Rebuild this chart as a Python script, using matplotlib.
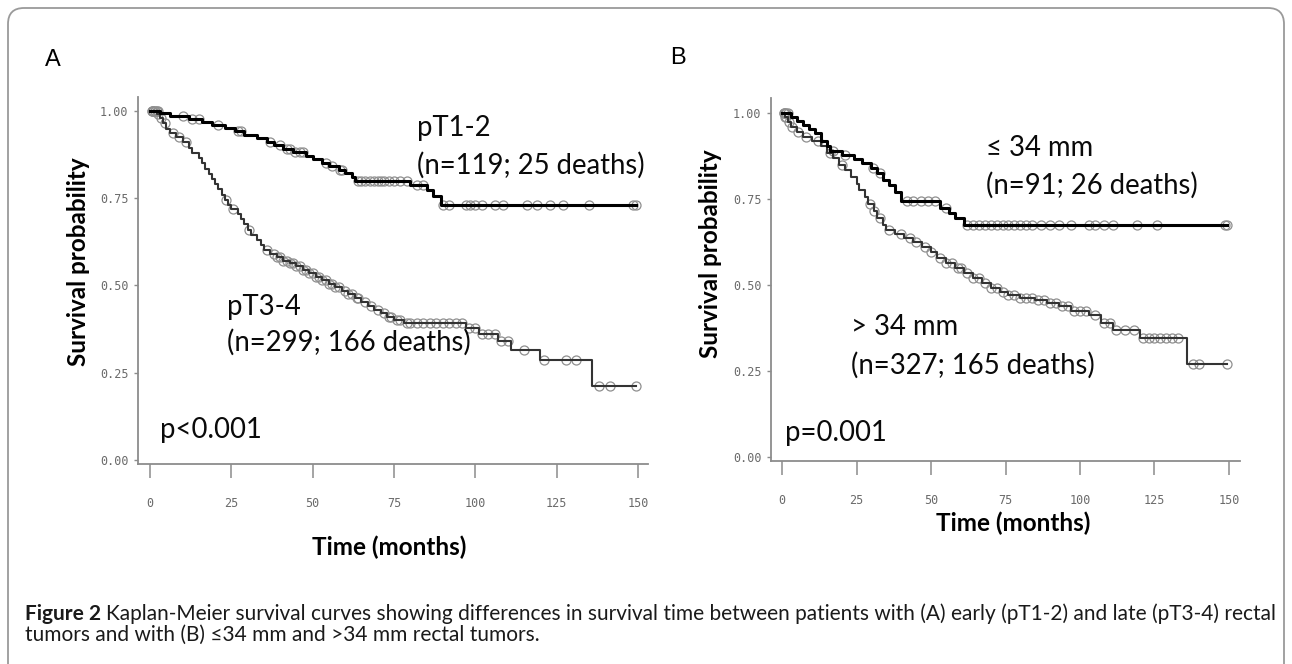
import numpy as np
import matplotlib
matplotlib.use('Agg')
import matplotlib.pyplot as plt
from matplotlib.patches import FancyBboxPatch
from matplotlib.transforms import IdentityTransform

W, H = 1292, 664

# --- panel A: pT1-2 (step times, survival after step, censored times)
a1_t = [3, 6, 12, 16, 19, 23, 26, 29, 33, 36, 38, 41, 44, 48, 50, 53, 55, 58, 60, 62, 63, 80, 85, 87, 89.5]
a1_s = [0.993, 0.986, 0.978, 0.969, 0.960, 0.951, 0.942, 0.932, 0.922, 0.912, 0.902, 0.892, 0.882, 0.872,
        0.862, 0.852, 0.842, 0.832, 0.822, 0.811, 0.800, 0.787, 0.772, 0.757, 0.730]
a1_c = [0.5, 1, 1.5, 2, 2.5, 10, 13, 15, 21, 27, 28, 37, 40, 42, 43, 44.5, 46, 47, 54, 56, 58.5, 59,
        64, 65, 66, 67.5, 69, 70, 71, 72, 73.5, 75, 77, 79, 82, 84, 90, 92, 97, 98.5, 100, 102, 106,
        108.5, 116, 119, 123, 127, 135, 148.5, 149.5]

# --- panel A: pT3-4
a2_t = [2, 3, 4, 5, 6, 8, 10, 12, 13, 15, 16, 17, 18, 19, 20, 21, 22, 23, 24, 25, 27, 28, 29, 30, 31,
        33, 34, 35, 37, 39, 41, 43, 45, 47, 49, 51, 53, 55, 57, 59, 61, 63, 65, 67, 69, 71, 73, 75,
        78, 97, 101, 107, 111, 120, 136]
a2_s = [0.990, 0.980, 0.965, 0.948, 0.936, 0.925, 0.910, 0.895, 0.880, 0.865, 0.850, 0.835, 0.820,
        0.805, 0.790, 0.775, 0.760, 0.745, 0.730, 0.718, 0.704, 0.690, 0.675, 0.660, 0.645, 0.630,
        0.615, 0.600, 0.590, 0.580, 0.571, 0.563, 0.555, 0.545, 0.535, 0.525, 0.515, 0.505, 0.495,
        0.485, 0.475, 0.463, 0.452, 0.441, 0.430, 0.420, 0.410, 0.401, 0.392, 0.377, 0.362, 0.340,
        0.315, 0.285, 0.212]
a2_c = [0.5, 1, 1.5, 2.5, 3.5, 4.5, 7, 9, 11, 23.5, 25.5, 30.5, 36, 38, 39, 40, 41, 42, 43, 44, 45,
        46, 47, 48, 49, 50, 51, 52, 53, 54, 55, 56, 57, 58, 60, 61, 62, 63.5, 64, 66, 68, 70, 72,
        73.5, 74, 76, 77, 79, 80, 82, 84, 86, 88, 90, 92, 94, 96, 98, 100, 102, 104, 106, 108, 110,
        115, 121, 128, 131, 138, 141.5, 149.5]

# --- panel B: <=34 mm
b1_t = [3, 5, 7, 9, 11, 13, 15, 16, 20, 24, 27, 30, 32, 34, 36, 38, 40, 53, 56, 58, 61]
b1_s = [0.990, 0.978, 0.966, 0.955, 0.943, 0.920, 0.905, 0.890, 0.878, 0.866, 0.855, 0.840, 0.825,
        0.805, 0.790, 0.770, 0.745, 0.725, 0.710, 0.695, 0.675]
b1_c = [0.5, 1, 1.5, 2, 17, 21, 30.5, 33, 42, 44, 46.5, 49, 51.5, 55, 62, 64, 66, 68, 70, 72, 74,
        76, 78, 80, 82, 84, 87, 90, 93, 97, 103, 105, 108, 111, 119, 126, 148.5, 149.5]

# --- panel B: >34 mm
b2_t = [1, 2, 3, 5, 7, 10, 13, 15, 17, 19, 21, 23, 25, 26, 28, 29, 31, 32, 34, 35, 38, 41, 44, 47,
        50, 52, 55, 58, 61, 64, 67, 70, 73, 76, 80, 85, 89, 93, 97, 103, 107, 111, 120, 136]
b2_s = [0.990, 0.975, 0.960, 0.945, 0.930, 0.920, 0.905, 0.885, 0.870, 0.850, 0.835, 0.815, 0.795,
        0.775, 0.755, 0.735, 0.715, 0.695, 0.675, 0.660, 0.648, 0.636, 0.624, 0.610, 0.595, 0.580,
        0.565, 0.550, 0.535, 0.520, 0.505, 0.490, 0.480, 0.470, 0.462, 0.455, 0.447, 0.440, 0.425,
        0.413, 0.390, 0.370, 0.345, 0.270]
b2_c = [0.5, 1, 1.5, 2.5, 3.5, 5.5, 8, 12, 16, 20, 29.5, 31, 33, 36, 40, 43, 45, 48, 50, 53, 55, 57,
        59, 60, 62, 64, 66, 68, 70, 72, 74, 76, 78, 80, 82, 84, 86, 88, 90, 92, 94, 96, 98, 100, 102,
        105, 108, 110, 112, 115, 118, 121, 123, 125, 127, 129, 131, 133, 138, 140, 149.5]

x_ticks = [0, 25, 50, 75, 100, 125, 150]
y_ticks = [0.0, 0.25, 0.5, 0.75, 1.0]
y_tick_labels = ['0.00', '0.25', '0.50', '0.75', '1.00']

plt.rcParams['font.family'] = ['Lato', 'DejaVu Sans']

GRAY = '#8c8c8c'


def fx(x):
    return x / W


def fy(y):
    return 1 - y / H


def surv_at(t, s, times):
    idx = np.searchsorted(t, times, side='right')
    return np.concatenate([[1.0], s])[idx]


def draw_curve(ax, t, s, cens, color, lw):
    t = np.array(t, dtype=float)
    s = np.array(s, dtype=float)
    c = np.array(cens, dtype=float)
    t_end = max(c.max(), t.max())
    x = np.concatenate([[0], t, [t_end]])
    y = np.concatenate([[1.0], s, [s[-1]]])
    ax.plot(x, y, drawstyle='steps-post', color=color, lw=lw, zorder=3)
    ax.plot(c, surv_at(t, s, c), 'o', ms=6.5, mfc='none', mec='#8f8f8f', mew=0.9, zorder=2)


def setup_axes(ax, xlim, ylim):
    ax.set_xlim(*xlim)
    ax.set_ylim(*ylim)
    for sp in ['top', 'right']:
        ax.spines[sp].set_visible(False)
    for sp in ['left', 'bottom']:
        ax.spines[sp].set_color(GRAY)
        ax.spines[sp].set_linewidth(1.3)
    ax.set_xticks(x_ticks)
    ax.set_xticklabels([str(v) for v in x_ticks], family='DejaVu Sans Mono')
    ax.set_yticks(y_ticks)
    ax.set_yticklabels(y_tick_labels, family='DejaVu Sans Mono')
    ax.tick_params(axis='x', direction='out', length=10, width=1.1, color=GRAY, pad=14,
                   labelsize=8.5, labelcolor='#6a6a6a')
    ax.tick_params(axis='y', direction='out', length=3, width=1.0, color=GRAY, pad=4,
                   labelsize=8.5, labelcolor='#6a6a6a')
    ax.set_facecolor('none')


fig = plt.figure(figsize=(W / 100, H / 100), dpi=100)

# rounded frame around the figure
frame = FancyBboxPatch((8, -40), W - 16, H - 8 + 40, boxstyle='round,pad=0,rounding_size=16',
                       fill=False, ec='#9a9a9a', lw=1.3, transform=IdentityTransform())
fig.add_artist(frame)

axA = fig.add_axes([fx(138), fy(464), fx(648) - fx(138), fy(97) - fy(464)])
setup_axes(axA, (-3.7, 153.1), (-0.012, 1.04))
draw_curve(axA, a2_t, a2_s, a2_c, '#333333', 1.5)
draw_curve(axA, a1_t, a1_s, a1_c, '#000000', 2.2)

axB = fig.add_axes([fx(771), fy(461), fx(1240) - fx(771), fy(98) - fy(461)])
setup_axes(axB, (-3.7, 153.7), (-0.012, 1.044))
draw_curve(axB, b2_t, b2_s, b2_c, '#333333', 1.5)
draw_curve(axB, b1_t, b1_s, b1_c, '#000000', 2.2)

# panel letters
fig.text(fx(45), fy(60), 'A', fontsize=17, family='Liberation Sans', va='center')
fig.text(fx(670), fy(58), 'B', fontsize=17, family='Liberation Sans', va='center')

# axis titles
for x, y in [(78, 262), (711, 254)]:
    fig.text(fx(x), fy(y), 'Survival probability', fontsize=17.5, weight='bold', rotation=90,
             ha='center', va='center')
fig.text(fx(389), fy(547), 'Time (months)', fontsize=17.5, weight='bold', ha='center', va='center')
fig.text(fx(1013), fy(523), 'Time (months)', fontsize=17.5, weight='bold', ha='center', va='center')

# annotations
ann = dict(fontsize=19.8, va='center', color='#0a0a0a')
fig.text(fx(417), fy(128), 'pT1-2', **ann)
fig.text(fx(417), fy(165), '(n=119; 25 deaths)', **ann)
fig.text(fx(227), fy(307), 'pT3-4', **ann)
fig.text(fx(227), fy(342), '(n=299; 166 deaths)', **ann)
fig.text(fx(160), fy(430), 'p<0.001', **ann)
fig.text(fx(986), fy(148), '\u2264 34 mm', **ann)
fig.text(fx(986), fy(185), '(n=91; 26 deaths)', **ann)
fig.text(fx(851), fy(327), '> 34 mm', **ann)
fig.text(fx(851), fy(365), '(n=327; 165 deaths)', **ann)
fig.text(fx(785), fy(433), 'p=0.001', **ann)

# caption
cap = dict(fontsize=15, va='center', color='#1a1a1a')
t1 = fig.text(fx(25), fy(614), 'Figure 2', weight='bold', **cap)
fig.canvas.draw()
bb = t1.get_window_extent()
fig.text((bb.x1 + 5) / W, fy(614),
         'Kaplan-Meier survival curves showing differences in survival time between patients with '
         '(A) early (pT1-2) and late (pT3-4) rectal', **cap)
fig.text(fx(25), fy(635), 'tumors and with (B) \u226434 mm and >34 mm rectal tumors.', **cap)

fig.savefig('out.png', dpi=100)
